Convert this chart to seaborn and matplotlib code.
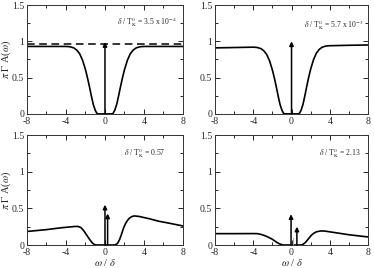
import numpy as np
import pandas as pd
import matplotlib
matplotlib.use("Agg")
import matplotlib.pyplot as plt
import seaborn as sns
from matplotlib.ticker import MultipleLocator

# ---- data ----
w_tl = [-8, -6, -4, -3.6, -3.2, -2.9, -2.6, -2.3, -2.0, -1.8, -1.6, -1.4, -1.2, -1.0, -0.85, -0.75,
        0.75, 0.85, 1.0, 1.2, 1.4, 1.6, 1.8, 2.0, 2.3, 2.6, 2.9, 3.2, 3.6, 4, 6, 8]
a_tl = [0.93, 0.93, 0.93, 0.926, 0.91, 0.88, 0.83, 0.74, 0.61, 0.5, 0.38, 0.25, 0.13, 0.05, 0.012, 0.0,
        0.0, 0.012, 0.05, 0.13, 0.25, 0.38, 0.5, 0.61, 0.74, 0.83, 0.88, 0.91, 0.926, 0.93, 0.93, 0.93]

w_tr = [-8, -6, -4, -3.6, -3.2, -2.9, -2.6, -2.3, -2.0, -1.8, -1.6, -1.4, -1.2, -1.0, -0.85, -0.75,
        0.75, 0.85, 1.0, 1.2, 1.4, 1.6, 1.8, 2.0, 2.3, 2.6, 2.9, 3.2, 3.6, 4, 6, 8]
a_tr = [0.91, 0.915, 0.92, 0.916, 0.9, 0.87, 0.82, 0.732, 0.604, 0.497, 0.377, 0.248, 0.129, 0.05, 0.012, 0.0,
        0.0, 0.012, 0.051, 0.132, 0.254, 0.385, 0.508, 0.617, 0.748, 0.838, 0.889, 0.919, 0.936, 0.94, 0.946, 0.95]

w_bl = [-8, -6, -4.5, -3.5, -3.0, -2.75, -2.5, -2.3, -2.1, -1.9, -1.7, -1.5, -1.3, -1.15, -1.0, -0.9,
        1.0, 1.15, 1.3, 1.5, 1.7, 1.9, 2.1, 2.3, 2.5, 2.75, 3.0, 3.5, 4.5, 5.5, 6.5, 8]
a_bl = [0.185, 0.21, 0.235, 0.248, 0.254, 0.253, 0.24, 0.215, 0.18, 0.14, 0.1, 0.062, 0.03, 0.012, 0.003, 0.0,
        0.0, 0.008, 0.025, 0.075, 0.15, 0.23, 0.29, 0.335, 0.365, 0.388, 0.397, 0.39, 0.36, 0.325, 0.3, 0.26]

w_br = [-8, -6, -4, -3.55, -3.2, -2.7, -2.3, -2.0, -1.75, -1.5, -1.25, -1.0, -0.9,
        1.0, 1.2, 1.4, 1.55, 1.8, 2.05, 2.3, 2.6, 3.05, 3.5, 4.5, 6, 8]
a_br = [0.155, 0.155, 0.156, 0.155, 0.145, 0.123, 0.098, 0.078, 0.055, 0.033, 0.015, 0.004, 0.0,
        0.0, 0.01, 0.028, 0.05, 0.09, 0.13, 0.158, 0.18, 0.192, 0.19, 0.17, 0.14, 0.11]

# delta peaks (position, weight)
peak_w_tl, peak_h_tl = [0.0], [0.99]
peak_w_tr, peak_h_tr = [0.0], [1.0]
peak_w_bl, peak_h_bl = [0.0, 0.27], [0.55, 0.43]
peak_w_br, peak_h_br = [-0.05, 0.56], [0.42, 0.25]
gray_w_br, gray_h_br = [0.18], [0.1]

dashed_level_tl = 0.965

labels = [r"$\delta$ / T$^0_{\rm K}$ = 3.5 x 10$^{-4}$",
          r"$\delta$ / T$^0_{\rm K}$ = 5.7 x 10$^{-3}$",
          r"$\delta$ / T$^0_{\rm K}$ = 0.57",
          r"$\delta$ / T$^0_{\rm K}$ = 2.13"]
label_pos = [(4.3, 1.27), (4.4, 1.23), (4.1, 1.26), (5.1, 1.26)]

xticks = [-8, -4, 0, 4, 8]
yticks = [0, 0.5, 1, 1.5]
ytick_labels = ["0", "0.5", "1", "1.5"]

# ---- drawing ----
sns.set_style("ticks")
plt.rcParams["font.family"] = ["Liberation Serif", "DejaVu Serif"]
plt.rcParams["mathtext.fontset"] = "stix"

fig = plt.figure(figsize=(3.74, 2.68), dpi=100)
positions = [
    [0.0722, 0.575, 0.417, 0.406],
    [0.575, 0.575, 0.409, 0.406],
    [0.0722, 0.0858, 0.417, 0.41],
    [0.575, 0.0858, 0.409, 0.41],
]
curves = [(w_tl, a_tl), (w_tr, a_tr), (w_bl, a_bl), (w_br, a_br)]
peaks = [(peak_w_tl, peak_h_tl), (peak_w_tr, peak_h_tr),
         (peak_w_bl, peak_h_bl), (peak_w_br, peak_h_br)]

for i in range(4):
    ax = fig.add_axes(positions[i])
    w, a = curves[i]
    df = pd.DataFrame({"w": w, "A": a})
    sns.lineplot(data=df, x="w", y="A", ax=ax, color="black", lw=1.2,
                 sort=False, estimator=None)
    if i == 0:
        ax.axhline(dashed_level_tl, color="black", lw=1.1, ls=(0, (5, 3)))
    if i == 3:
        for gx, gh in zip(gray_w_br, gray_h_br):
            ax.plot([gx, gx], [0, gh], color="#b0b0b0", lw=0.8)
    for px, ph in zip(*peaks[i]):
        ax.annotate("", xy=(px, ph), xytext=(px, 0),
                    arrowprops=dict(arrowstyle="-|>", color="black", lw=1.1,
                                    mutation_scale=6, shrinkA=0, shrinkB=0))
    ax.set_xlim(-8, 8)
    ax.set_ylim(0, 1.5)
    ax.set_xticks(xticks)
    ax.set_xticklabels([str(t) for t in xticks])
    ax.set_yticks(yticks)
    ax.set_yticklabels(ytick_labels)
    ax.xaxis.set_minor_locator(MultipleLocator(2))
    ax.yaxis.set_minor_locator(MultipleLocator(0.25))
    ax.tick_params(which="both", direction="in", top=True, right=True,
                   labelsize=7, width=0.7)
    ax.tick_params(axis="x", which="both", pad=2.5)
    ax.tick_params(axis="y", which="both", pad=2)
    ax.tick_params(which="major", length=3.5)
    ax.tick_params(which="minor", length=2)
    for s in ax.spines.values():
        s.set_linewidth(0.7)
        s.set_color("#333333")
    tx, ty = label_pos[i]
    ax.text(tx, ty, labels[i], fontsize=5.5, ha="center", va="center")
    if i in (0, 2):
        ax.set_ylabel(r"$\pi$ $\Gamma$ A($\omega$)", fontsize=7.5, va="center")
        ax.yaxis.set_label_coords(-0.13, 0.5)
    else:
        ax.set_ylabel("")
    if i in (2, 3):
        ax.set_xlabel(r"$\omega$ / $\delta$", fontsize=7.5, labelpad=0)
    else:
        ax.set_xlabel("")

fig.savefig("out.png", dpi=100)
